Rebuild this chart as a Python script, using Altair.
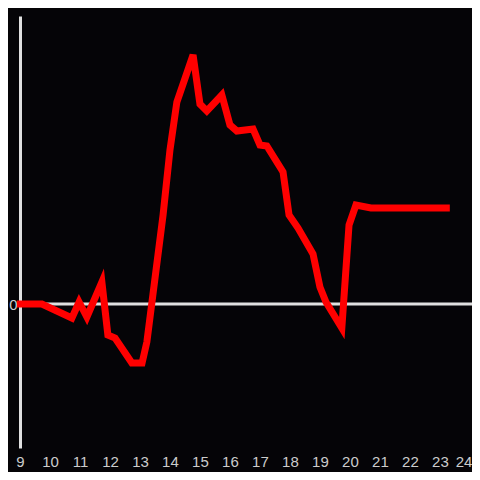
import altair as alt
import pandas as pd

hours = [8.9, 9.73, 10.73, 10.97, 11.23, 11.73, 11.93, 12.17, 12.73, 13.07, 13.23,
         13.77, 14.0, 14.23, 14.77, 15.0, 15.23, 15.73, 16.0, 16.23, 16.77, 17.0,
         17.23, 17.77, 17.97, 18.27, 18.77, 19.0, 19.2, 19.73, 19.97, 20.2, 20.7, 23.33]
values = [0, 0, -14, 2, -13, 22, -31, -34, -59, -59, -38,
          89, 154, 202, 249, 200, 193, 209, 179, 173, 175, 159,
          158, 132, 89, 76, 50, 17, 2, -24, 79, 99, 96, 96]
x_ticks = list(range(9, 25))

df = pd.DataFrame({"hour": hours, "value": values})
zero = pd.DataFrame({"y": [0]})

label_font = "Liberation Sans"
label_color = "#cccccc"

xaxis = alt.Axis(values=x_ticks, domain=False, ticks=False, grid=False,
                 labelPadding=6, labelFontSize=15, labelColor=label_color,
                 labelFont=label_font, labelFlush=False, title=None,
                 labelAlign=alt.ExprRef("datum.value == 24 ? 'right' : 'center'"),
                 labelOffset=alt.ExprRef("datum.value == 24 ? 2 : 0"))
yaxis = alt.Axis(values=[0], domain=True, domainColor="#e0e0e0", domainWidth=3,
                 ticks=False, grid=False, labelPadding=3, labelFontSize=15,
                 labelColor=label_color, labelFont=label_font, title=None)
xscale = alt.Scale(domain=[9, 24.07], nice=False, zero=False)
yscale = alt.Scale(domain=[-144, 288], nice=False, zero=False)

rule = alt.Chart(zero).mark_rule(color="#e0e0e0", strokeWidth=3).encode(
    y=alt.Y("y:Q", scale=yscale, axis=yaxis)
)

line = alt.Chart(df).mark_line(color="#ff0000", strokeWidth=7, strokeJoin="miter",
                               strokeCap="butt").encode(
    x=alt.X("hour:Q", scale=xscale, axis=xaxis),
    y=alt.Y("value:Q", scale=yscale, axis=yaxis),
    order="hour:Q",
)

chart = alt.layer(rule, line).properties(
    width=452, height=432,
    autosize=alt.AutoSizeParams(type="none"),
    padding={"left": 12, "top": 8, "right": 0, "bottom": 24},
    background="#050407",
).configure_view(stroke=None)

chart.save("out.html", embed_options={"renderer": "svg", "actions": False})
